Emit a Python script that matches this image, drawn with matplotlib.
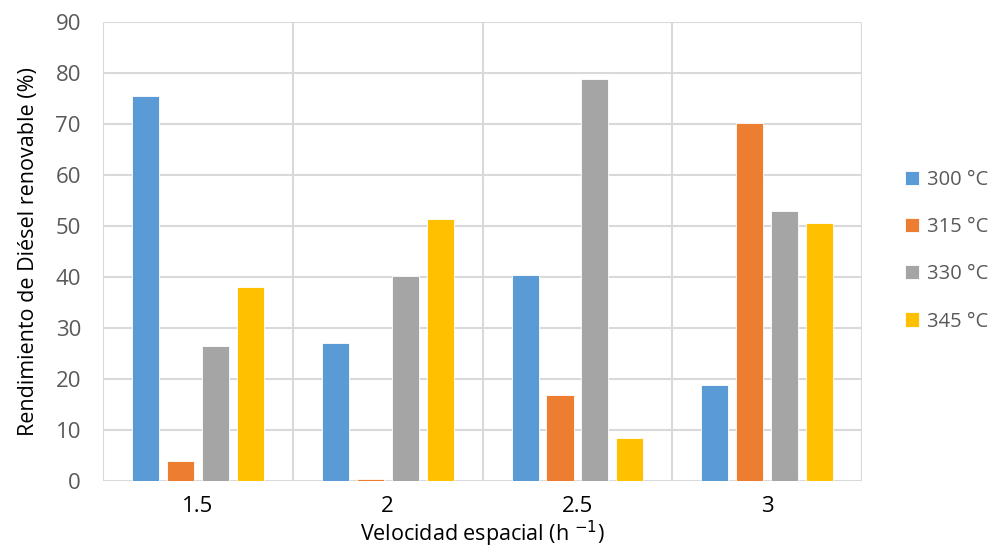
import numpy as np
import matplotlib.pyplot as plt

plt.rcParams['font.family'] = ['Open Sans', 'DejaVu Sans']

categories = ['1.5', '2', '2.5', '3']
series_labels = ['300 °C', '315 °C', '330 °C', '345 °C']
v300 = [75.5, 27.0, 40.4, 18.8]
v315 = [3.9, 0.3, 16.9, 70.2]
v330 = [26.5, 40.2, 78.9, 52.9]
v345 = [38.1, 51.3, 8.4, 50.6]
colors = ['#5B9BD5', '#ED7D31', '#A5A5A5', '#FFC000']

fig = plt.figure(figsize=(9.92, 5.5), dpi=100)
ax = fig.add_axes([0.104, 0.1255, 0.765, 0.8345])

x = np.arange(len(categories))
width = 0.143
pitch = 0.184
for i, (vals, lab, col) in enumerate(zip([v300, v315, v330, v345], series_labels, colors)):
    ax.bar(x + (i - 1.5) * pitch, vals, width, color=col, label=lab,
           edgecolor='white', linewidth=0.6, zorder=3)

ax.set_xlim(-0.5, 3.5)
ax.set_ylim(0, 90)
ax.set_yticks(range(0, 91, 10))
ax.set_xticks(x)
ax.set_xticklabels(categories, fontsize=16, color='black')
ax.tick_params(axis='y', labelsize=16, labelcolor='#595959', length=0, pad=16)
ax.tick_params(axis='x', length=0, pad=11)

# gridlines form the whole frame, like the Excel chart
ax.yaxis.grid(True, color='#d9d9d9', linewidth=1.5, zorder=0)
ax.set_xticks(np.arange(-0.5, 3.6, 1), minor=True)
ax.xaxis.grid(True, which='minor', color='#d9d9d9', linewidth=1.5, zorder=0)
ax.tick_params(axis='x', which='minor', length=0)
for s in ax.spines.values():
    s.set_visible(False)

ax.set_ylabel('Rendimiento de Diésel renovable (%)', fontsize=15.5, labelpad=12)
ax.set_xlabel('Velocidad espacial (h $^{-1}$)', fontsize=15.5, labelpad=1)

fig.legend(loc='center left', bbox_to_anchor=(0.912, 0.544), frameon=False,
           fontsize=14.5, labelcolor='#595959', handlelength=0.7, handleheight=0.7,
           handletextpad=0.4, labelspacing=1.35, borderpad=0, borderaxespad=0)

fig.savefig('out.png', dpi=100)
